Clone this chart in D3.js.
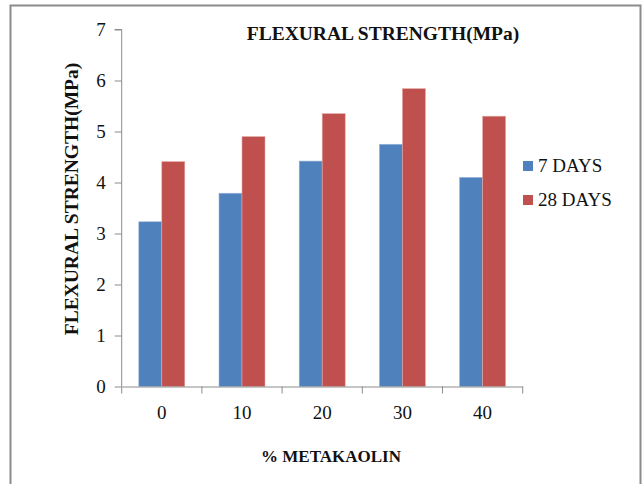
<!DOCTYPE html>
<html>
<head>
<meta charset="utf-8">
<script src="https://cdn.jsdelivr.net/npm/d3@7/dist/d3.min.js"></script>
<style>
  html, body { margin: 0; padding: 0; background: #fff; }
  svg { display: block; }
</style>
</head>
<body>
<script>
// Flexural strength of concrete vs. metakaolin replacement
const categories = ["0", "10", "20", "30", "40"];
const seriesNames = ["7 DAYS", "28 DAYS"];
const days7 = [3.23, 3.79, 4.42, 4.75, 4.10];
const days28 = [4.41, 4.90, 5.35, 5.84, 5.30];
const yTicks = [0, 1, 2, 3, 4, 5, 6, 7];
const colors = ["#4F81BD", "#C0504D"];

const W = 642, H = 484;
const svg = d3.select("body").append("svg").attr("width", W).attr("height", H);
const font = "'Liberation Serif', 'Times New Roman', serif";

// outer frame
svg.append("rect")
  .attr("x", 10.5).attr("y", 5.5).attr("width", 630).attr("height", 490)
  .attr("fill", "none").attr("stroke", "#8c8c8c").attr("stroke-width", 2);

const plot = { left: 121.7, right: 522.7, top: 29.5, bottom: 386.5 };

const x = d3.scaleBand().domain(categories).range([plot.left, plot.right]).paddingInner(0).paddingOuter(0);
const y = d3.scaleLinear().domain([0, 7]).range([plot.bottom, plot.top]);
const inner = d3.scaleBand().domain(seriesNames).range([0, 46]);
const innerOffset = (x.bandwidth() - 46) / 2;

const data = categories.map((c, i) => ({ cat: c, vals: [days7[i], days28[i]] }));

// bars
const groups = svg.append("g").selectAll("g").data(data).join("g")
  .attr("transform", d => `translate(${x(d.cat) + innerOffset},0)`);
groups.selectAll("rect").data(d => d.vals.map((v, k) => ({ v, k })))
  .join("rect")
  .attr("x", d => inner(seriesNames[d.k]))
  .attr("width", inner.bandwidth())
  .attr("y", d => y(d.v))
  .attr("height", d => y(0) - y(d.v))
  .attr("fill", d => colors[d.k])
  .attr("stroke", d => d.k === 0 ? "#9db8dc" : "#e2a9a7")
  .attr("stroke-width", 0.6);

// y axis
const yAxis = svg.append("g").attr("transform", `translate(${plot.left},0)`)
  .call(d3.axisLeft(y).tickValues(yTicks).tickFormat(d3.format("d")).tickSize(7).tickPadding(9));
yAxis.select(".domain").attr("stroke", "#8c8c8c").attr("d", `M-7,${plot.top}H0V${plot.bottom}`);
yAxis.selectAll(".tick line").attr("stroke", "#8c8c8c");
yAxis.selectAll(".tick text").attr("font-family", font).attr("font-size", 19).attr("fill", "#111");

// x axis
const xAxis = svg.append("g").attr("transform", `translate(0,${plot.bottom})`)
  .call(d3.axisBottom(x).tickSize(0).tickPadding(19));
xAxis.select(".domain").attr("stroke", "#8c8c8c");
xAxis.selectAll(".tick text").attr("font-family", font).attr("font-size", 19).attr("fill", "#111");
const bounds = categories.map(c => x(c)).concat([plot.right]);
svg.append("g").selectAll("line").data(bounds).join("line")
  .attr("x1", d => d).attr("x2", d => d)
  .attr("y1", plot.bottom).attr("y2", plot.bottom + 7)
  .attr("stroke", "#8c8c8c");

// titles
svg.append("text").attr("x", 383).attr("y", 40)
  .attr("text-anchor", "middle").attr("font-family", font).attr("font-weight", "bold")
  .attr("font-size", 19.5).attr("fill", "#111")
  .text("FLEXURAL STRENGTH(MPa)");

svg.append("text").attr("transform", "translate(78,199) rotate(-90)")
  .attr("text-anchor", "middle").attr("font-family", font).attr("font-weight", "bold")
  .attr("font-size", 19.5).attr("fill", "#111")
  .text("FLEXURAL STRENGTH(MPa)");

svg.append("text").attr("x", 331).attr("y", 462)
  .attr("text-anchor", "middle").attr("font-family", font).attr("font-weight", "bold")
  .attr("font-size", 17).attr("fill", "#111")
  .text("% METAKAOLIN");

// legend
const legend = svg.append("g").selectAll("g").data(seriesNames).join("g")
  .attr("transform", (d, i) => `translate(523,${161 + i * 34})`);
legend.append("rect").attr("width", 10).attr("height", 10)
  .attr("fill", (d, i) => colors[i]);
legend.append("text").attr("x", 15).attr("y", 11)
  .attr("font-family", font).attr("font-size", 19).attr("fill", "#111")
  .text(d => d);
</script>
</body>
</html>
